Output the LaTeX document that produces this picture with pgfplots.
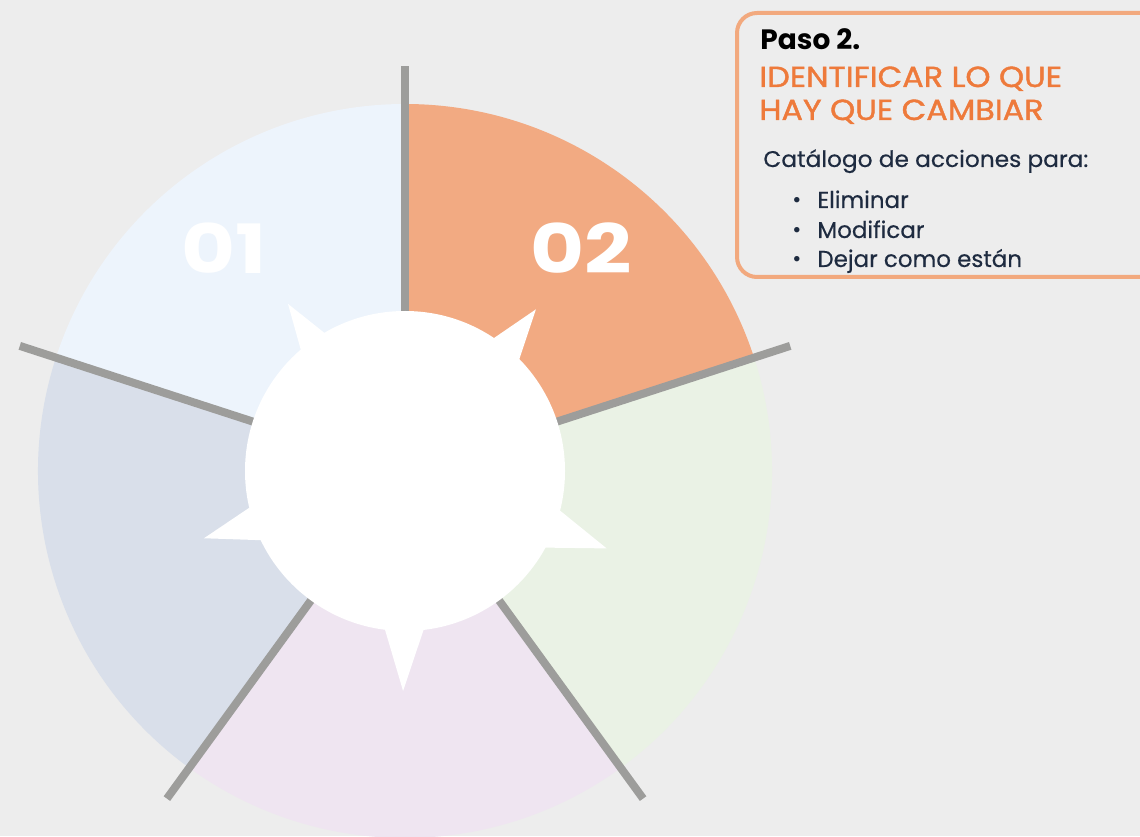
\documentclass[border=0pt]{standalone}
\usepackage{pgfplots}
\pgfplotsset{compat=1.18}
\usepackage{fontspec}
\setmainfont{Poppins}
\newfontfamily\popmed[FakeBold=1.3]{Poppins}
\newfontfamily\popbody[FakeBold=0.4]{Poppins}
\definecolor{bgcol}{HTML}{EDEDED}
\definecolor{segA}{HTML}{EDF4FC}
\definecolor{segB}{HTML}{F2AA82}
\definecolor{segC}{HTML}{EAF2E5}
\definecolor{segD}{HTML}{EFE5F1}
\definecolor{segE}{HTML}{D9DFEA}
\definecolor{linecol}{HTML}{9D9D9B}
\definecolor{boxcol}{HTML}{F2A97E}
\definecolor{ttlcol}{HTML}{EE7A3B}
\definecolor{txtcol}{HTML}{1E2B40}
\begin{document}
\begin{tikzpicture}
\begin{axis}[
  x=0.5pt, y=0.5pt,
  xmin=0, xmax=1140, ymin=0, ymax=836,
  hide axis, clip=true,
]
% background
\fill[bgcol] (axis cs:0,0) rectangle (axis cs:1140,836);
% five equal sectors (20% each), centre (405,365), radius 367 px = 183.5pt
\begin{scope}[shift={(axis cs:405,365)}]
\fill[segA] (0,0) -- (90:183.5pt) arc[start angle=90, end angle=162, radius=183.5pt] -- cycle;
\fill[segB] (0,0) -- (18:183.5pt) arc[start angle=18, end angle=90, radius=183.5pt] -- cycle;
\fill[segC] (0,0) -- (-54:183.5pt) arc[start angle=-54, end angle=18, radius=183.5pt] -- cycle;
\fill[segD] (0,0) -- (-126:183.5pt) arc[start angle=-126, end angle=-54, radius=183.5pt] -- cycle;
\fill[segE] (0,0) -- (162:183.5pt) arc[start angle=162, end angle=234, radius=183.5pt] -- cycle;
\end{scope}
% dividing lines
\addplot[linecol, line width=4pt, line cap=butt] coordinates {(405,365) (405,770)};
\addplot[linecol, line width=4pt] coordinates {(405,365) (790.2,490.1)};
\addplot[linecol, line width=4pt] coordinates {(405,365) (643.1,37.4)};
\addplot[linecol, line width=4pt] coordinates {(405,365) (166.9,37.4)};
\addplot[linecol, line width=4pt] coordinates {(405,365) (19.8,490.1)};
% inner circle with spikes
\begin{scope}[shift={(axis cs:405,365)}]
\fill[white] (0,0) circle[radius=80pt];
\fill[white] (44:79pt) -- (51:104pt) -- (56.5:79pt) -- cycle;
\fill[white] (120:79pt) -- (125:102pt) -- (131:79pt) -- cycle;
\fill[white] (-29:79pt) -- (-21:108pt) -- (-14:79pt) -- cycle;
\fill[white] (-167:79pt) -- (-161.5:106pt) -- (-154:79pt) -- cycle;
\fill[white] (-97.5:79pt) -- (-90.5:110pt) -- (-83:79pt) -- cycle;
\end{scope}
% numbers
\node[white, font=\fontsize{34}{34}\selectfont\bfseries] at (axis cs:224,588) {\scalebox{1.22}[1]{01}};
\node[white, font=\fontsize{34}{34}\selectfont\bfseries] at (axis cs:581,588) {\scalebox{1.22}[1]{02}};
% text box
\draw[boxcol, line width=2pt, rounded corners=10pt, fill=bgcol] (axis cs:737,559) rectangle (axis cs:1180,823);
\node[anchor=base west, inner sep=0pt, font=\fontsize{14}{14}\selectfont\bfseries, text=black] at (axis cs:760,786) {Paso 2.};
\node[anchor=base west, inner sep=0pt, font=\fontsize{14.5}{14.5}\popmed, text=ttlcol] at (axis cs:759,749) {\scalebox{1.1}[1]{IDENTIFICAR LO QUE}};
\node[anchor=base west, inner sep=0pt, font=\fontsize{14.5}{14.5}\popmed, text=ttlcol] at (axis cs:759,716) {\scalebox{1.1}[1]{HAY QUE CAMBIAR}};
\node[anchor=base west, inner sep=0pt, font=\fontsize{11.3}{11.3}\popbody, text=txtcol] at (axis cs:763,669) {\scalebox{1.03}[1]{Catálogo de acciones para:}};
\node[anchor=base west, inner sep=0pt, font=\fontsize{11}{11}\selectfont, text=txtcol] at (axis cs:792,628) {•};
\node[anchor=base west, inner sep=0pt, font=\fontsize{11.5}{11.5}\popbody, text=txtcol] at (axis cs:817,628) {Eliminar};
\node[anchor=base west, inner sep=0pt, font=\fontsize{11}{11}\selectfont, text=txtcol] at (axis cs:792,598) {•};
\node[anchor=base west, inner sep=0pt, font=\fontsize{11.5}{11.5}\popbody, text=txtcol] at (axis cs:817,598) {Modificar};
\node[anchor=base west, inner sep=0pt, font=\fontsize{11}{11}\selectfont, text=txtcol] at (axis cs:792,569) {•};
\node[anchor=base west, inner sep=0pt, font=\fontsize{11.5}{11.5}\popbody, text=txtcol] at (axis cs:817,569) {Dejar como están};
\end{axis}
\pgfresetboundingbox
\path (current axis.south west) rectangle (current axis.north east);
\end{tikzpicture}
\end{document}
